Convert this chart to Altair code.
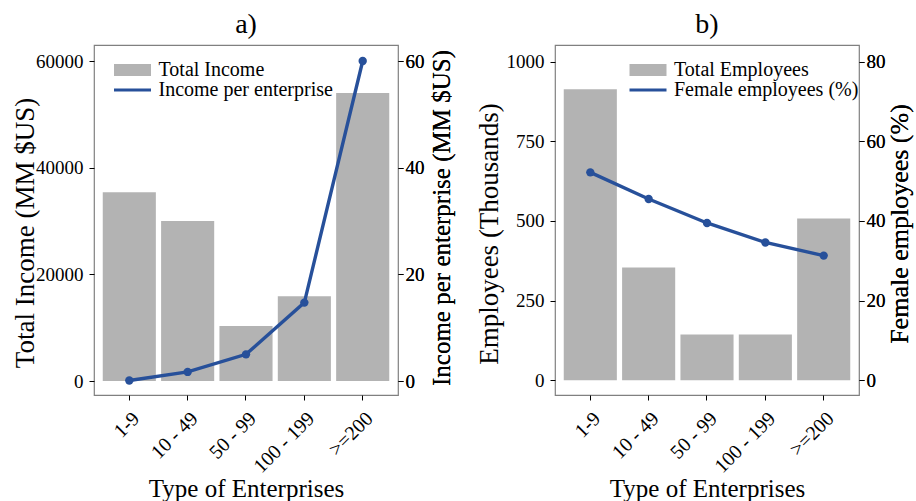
import altair as alt
import pandas as pd

# Enterprise size classes and the values plotted for each
categories = ["1-9", "10 - 49", "50 - 99", "100 - 199", ">=200"]
total_income = [35400, 30000, 10300, 15900, 54000]          # MM $US
income_per_enterprise = [0.1, 1.7, 5.0, 14.7, 60.0]          # MM $US
total_employees = [913, 354, 144, 144, 508]                  # thousands
female_employees_pct = [52.2, 45.5, 39.5, 34.6, 31.3]        # %

FONT = "Liberation Serif"
GREY = "#b3b3b3"
BLUE = "#27509a"
# legend swatches (unit symbol is 20 px): a wide grey block and a thin blue stroke
KEY_SIZE = 400
RECT_PATH = "M-1.85,-0.6L1.85,-0.6L1.85,0.6L-1.85,0.6Z"
LINE_PATH = "M-1.85,-0.14L1.85,-0.14L1.85,0.14L-1.85,0.14Z"

W, H = 304, 350


def panel(title, bar_vals, line_vals, bar_name, line_name,
          left_title, right_title, left_dom, right_dom,
          left_ticks, right_ticks, left_pos, right_pos, legend_x):
    df = pd.DataFrame({"cat": categories, "bar": bar_vals, "line": line_vals})

    x = alt.X(
        "cat:N", sort=categories, title="Type of Enterprises",
        scale=alt.Scale(paddingInner=0.09, paddingOuter=0.15),
        axis=alt.Axis(labelAngle=-45, labelAlign="right", labelBaseline="top",
                      labelPadding=8, labelFontSize=20,
                      titleFontSize=25, titleY=93, titleBaseline="middle"),
    )

    bars = alt.Chart(df).mark_bar(color=GREY).encode(
        x=x,
        y=alt.Y("bar:Q", title=left_title,
                scale=alt.Scale(domain=left_dom, nice=False, zero=False),
                axis=alt.Axis(values=left_ticks, format="d", labelPadding=6,
                              titleFontSize=left_pos[2], titleFontWeight="normal",
                              titleAngle=270, titleBaseline="middle",
                              titleX=left_pos[0], titleY=left_pos[1])),
        y2=alt.datum(0),
    )

    y_right = alt.Y("line:Q", title=right_title,
                    scale=alt.Scale(domain=right_dom, nice=False, zero=False),
                    axis=alt.Axis(orient="right", values=right_ticks, format="d",
                                  labelPadding=2,
                                  titleFontSize=right_pos[2], titleFontWeight="normal",
                                  titleAngle=270, titleBaseline="middle",
                                  titleX=right_pos[0], titleY=right_pos[1]))
    line = alt.Chart(df).mark_line(color=BLUE, strokeWidth=3.4).encode(x=x, y=y_right)
    dots = alt.Chart(df).mark_point(color=BLUE, filled=True, size=70, opacity=1).encode(
        x=x, y=y_right)

    names = [bar_name, line_name]
    leg = alt.Legend(
        title=None, orient="none", legendX=legend_x, legendY=15,
        labelFont=FONT, labelFontSize=20, labelColor="black", labelOffset=16,
        labelLimit=0,
        symbolSize=KEY_SIZE, symbolStrokeWidth=0, symbolOpacity=1,
        rowPadding=0, padding=0,
    )
    key = alt.Chart(pd.DataFrame({"series": names})).mark_point(
        filled=True, opacity=0).encode(
        color=alt.Color("series:N", sort=names,
                        scale=alt.Scale(domain=names, range=[GREY, BLUE]), legend=leg),
        shape=alt.Shape("series:N", sort=names,
                        scale=alt.Scale(domain=names, range=[RECT_PATH, LINE_PATH]),
                        legend=leg),
    )

    return (
        alt.layer(bars, key, line, dots)
        .resolve_scale(y="independent")
        .properties(width=W, height=H,
                    title=alt.Title(title, fontSize=28, font=FONT,
                                    fontWeight="normal", offset=6))
    )


panel_a = panel("a)", total_income, income_per_enterprise,
                "Total Income", "Income per enterprise",
                "Total Income (MM $US)", "Income per enterprise (MM $US)",
                [-2625, 63000], [-2.625, 63.0],
                [0, 20000, 40000, 60000], [0, 20, 40, 60],
                (-69, 187.5, 27), (43, 172.5, 25), 28.5)

panel_b = panel("b)", total_employees, female_employees_pct,
                "Total Employees", "Female employees (%)",
                "Employees (Thousands)", "Female employees (%)",
                [-46, 1052], [-3.68, 84.16],
                [0, 250, 500, 750, 1000], [0, 20, 40, 60, 80],
                (-66, 188.5, 27), (40, 178.5, 26), 83)

chart = (
    alt.hconcat(panel_a, panel_b, spacing=19)
    .resolve_scale(color="independent", shape="independent")
    .resolve_legend(color="independent", shape="independent")
    .properties(padding={"left": 10, "top": 10, "right": 2, "bottom": 2})
    .configure(font=FONT)
    .configure_view(stroke="#808080", strokeWidth=1.2)
    .configure_axis(
        domain=False, grid=False, tickColor="black", tickSize=5, tickWidth=1,
        labelFont=FONT, labelFontSize=19, labelColor="black",
        titleFont=FONT, titleFontWeight="normal", titleColor="black",
    )
    .configure_title(color="black")
)

chart.save("out.html", embed_options={"renderer": "svg", "actions": False})
